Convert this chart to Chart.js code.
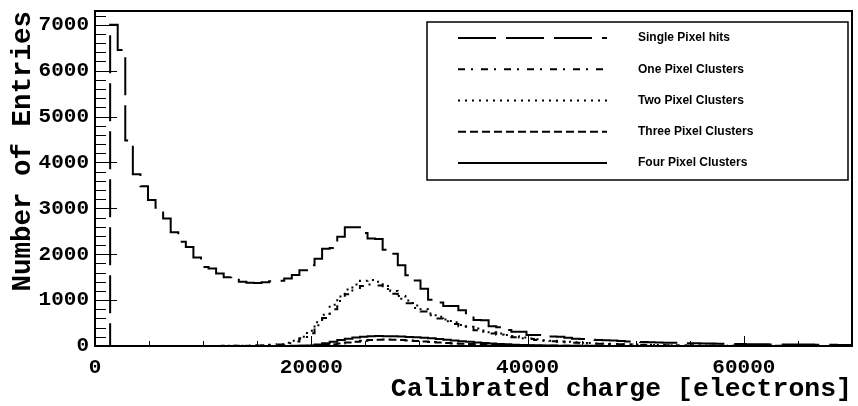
<!DOCTYPE html>
<html>
<head>
<meta charset="utf-8">
<script src="https://cdn.jsdelivr.net/npm/chart.js@4.4.1/dist/chart.umd.min.js"></script>
<style>
  html, body { margin: 0; padding: 0; background: #fff; }
  #wrap { width: 858px; height: 406px; }
</style>
</head>
<body>
<div id="wrap"><canvas id="chart" width="858" height="406"></canvas></div>
<script>
// histogram binning: 100 bins of 700 electrons
const BIN_WIDTH = 700;
const X_MIN = 0;
const X_MAX = 70000;
const Y_MAX = 7300;
const X_MAJOR = 20000, X_MINOR = 5000;
const Y_MAJOR = 1000, Y_MINOR = 200;

const xTickLabels = [0, 20000, 40000, 60000];
const yTickLabels = [0, 1000, 2000, 3000, 4000, 5000, 6000, 7000];

const seriesLabels = [
  "Single Pixel hits",
  "One Pixel Clusters",
  "Two Pixel Clusters",
  "Three Pixel Clusters",
  "Four Pixel Clusters",
];

const singlePixelHits = [
  0, 0, 7000, 6450, 4480, 3740, 3480, 3180, 3010, 2780,
  2480, 2270, 2160, 1930, 1720, 1690, 1580, 1500, 1510, 1400,
  1380, 1375, 1390, 1410, 1420, 1470, 1545, 1650, 1760, 1900,
  2120, 2135, 2380, 2590, 2590, 2460, 2340, 2330, 2100, 2010,
  1760, 1540, 1430, 1250, 1010, 950, 870, 870, 780, 650,
  565, 560, 430, 410, 350, 310, 310, 240, 240, 210,
  205, 200, 180, 160, 150, 140, 130, 125, 120, 110,
  100, 90, 85, 80, 75, 70, 70, 65, 60, 60,
  55, 55, 50, 50, 45, 45, 40, 40, 40, 35,
  35, 35, 30, 30, 30, 25, 25, 25, 20, 20,
];

const onePixelClusters = [
  0, 0, 0, 0, 0, 0, 0, 0, 0, 0,
  0, 0, 0, 0, 0, 1, 2, 3, 5, 6,
  8, 12, 16, 24, 35, 60, 100, 170, 280, 450,
  610, 800, 980, 1130, 1240, 1310, 1340, 1320, 1240, 1140,
  1030, 930, 830, 750, 670, 600, 540, 480, 430, 385,
  345, 310, 275, 245, 215, 190, 168, 150, 132, 116,
  102, 90, 80, 71, 63, 56, 50, 45, 40, 36,
  32, 29, 26, 23, 21, 19, 17, 15, 13, 12,
  11, 10, 9, 8, 7, 6, 6, 5, 5, 4,
  4, 3, 3, 3, 2, 2, 2, 1, 1, 1,
];

const twoPixelClusters = [
  0, 0, 0, 0, 0, 0, 0, 0, 0, 0,
  0, 0, 0, 0, 0, 2, 3, 4, 6, 7,
  9, 13, 18, 27, 40, 70, 115, 200, 330, 520,
  680, 900, 1080, 1230, 1340, 1420, 1440, 1400, 1310, 1200,
  1090, 990, 880, 800, 710, 640, 580, 520, 460, 420,
  380, 340, 300, 270, 240, 210, 185, 165, 145, 128,
  112, 100, 90, 80, 71, 63, 56, 50, 45, 40,
  36, 32, 28, 25, 22, 20, 18, 16, 14, 12,
  11, 10, 9, 8, 7, 6, 6, 5, 5, 4,
  4, 3, 3, 3, 2, 2, 2, 1, 1, 1,
];

const threePixelClusters = [
  0, 0, 0, 0, 0, 0, 0, 0, 0, 0,
  0, 0, 0, 0, 0, 0, 0, 0, 0, 0,
  0, 0, 0, 0, 1, 1, 2, 3, 5, 12,
  22, 38, 55, 75, 95, 112, 130, 138, 140, 138,
  130, 120, 108, 97, 86, 76, 66, 57, 49, 42,
  36, 30, 25, 21, 17, 14, 11, 9, 7, 6,
  5, 4, 3, 3, 2, 2, 1, 1, 1, 1,
  0, 0, 0, 0, 0, 0, 0, 0, 0, 0,
  0, 0, 0, 0, 0, 0, 0, 0, 0, 0,
  0, 0, 0, 0, 0, 0, 0, 0, 0, 0,
];

const fourPixelClusters = [
  0, 0, 0, 0, 0, 0, 0, 0, 0, 0,
  0, 0, 0, 0, 0, 0, 0, 0, 0, 0,
  0, 0, 0, 0, 1, 2, 3, 5, 10, 30,
  60, 95, 130, 160, 185, 200, 212, 218, 215, 210,
  205, 198, 190, 180, 168, 152, 136, 120, 104, 90,
  76, 64, 53, 44, 36, 29, 23, 18, 14, 11,
  9, 7, 6, 5, 4, 3, 3, 2, 2, 1,
  1, 1, 1, 1, 1, 0, 0, 0, 0, 0,
  0, 0, 0, 0, 0, 0, 0, 0, 0, 0,
  0, 0, 0, 0, 0, 0, 0, 0, 0, 0,
];

const seriesValues = [singlePixelHits, onePixelClusters, twoPixelClusters, threePixelClusters, fourPixelClusters];
const seriesDash = [[38, 10], [7, 6, 2, 8], [2, 5], [8, 4], []];

const MONO = "'Liberation Mono', 'Courier New', monospace";

// one point per bin low edge plus the closing edge, drawn as steps
function histPoints(values) {
  const pts = values.map((v, i) => ({ x: X_MIN + i * BIN_WIDTH, y: v }));
  pts.push({ x: X_MIN + values.length * BIN_WIDTH, y: values[values.length - 1] });
  return pts;
}

// keep the frame where ROOT puts it, labels may overhang
function noScalePadding(s) {
  s.paddingTop = 0;
  s.paddingBottom = 0;
  s.paddingLeft = 0;
  s.paddingRight = 0;
}

// ROOT style: ticks inside the frame, left and bottom only
const rootAxes = {
  id: "rootAxes",
  afterDatasetsDraw(chart) {
    const { ctx, chartArea: a, scales: { x, y } } = chart;
    ctx.save();
    ctx.strokeStyle = "#000";
    ctx.lineWidth = 1;
    ctx.beginPath();
    for (let v = 0; v <= Y_MAX; v += Y_MINOR) {
      const py = Math.round(y.getPixelForValue(v)) + 0.5;
      const len = v % Y_MAJOR === 0 ? 22 : 11;
      ctx.moveTo(a.left, py);
      ctx.lineTo(a.left + len, py);
    }
    for (let v = X_MIN; v <= X_MAX; v += X_MINOR) {
      const px = Math.round(x.getPixelForValue(v)) + 0.5;
      const len = v % X_MAJOR === 0 ? 10 : 5;
      ctx.moveTo(px, a.bottom);
      ctx.lineTo(px, a.bottom - len);
    }
    ctx.stroke();
    ctx.lineWidth = 2;
    ctx.strokeRect(a.left, a.top, a.right - a.left, a.bottom - a.top);
    ctx.restore();
  },
};

const rootLegend = {
  id: "rootLegend",
  afterDraw(chart) {
    const { ctx } = chart;
    const box = { left: 427, top: 22, right: 848, bottom: 180 };
    ctx.save();
    ctx.fillStyle = "#fff";
    ctx.fillRect(box.left, box.top, box.right - box.left, box.bottom - box.top);
    ctx.strokeStyle = "#000";
    ctx.lineWidth = 1.5;
    ctx.strokeRect(box.left, box.top, box.right - box.left, box.bottom - box.top);
    ctx.font = "bold 12px 'Liberation Sans', Arial, sans-serif";
    ctx.textBaseline = "middle";
    ctx.fillStyle = "#000";
    chart.data.datasets.forEach((ds, i) => {
      const cy = box.top + 16 + i * 31.25;
      ctx.setLineDash(ds.borderDash || []);
      ctx.lineWidth = ds.borderWidth;
      ctx.beginPath();
      ctx.moveTo(458, cy);
      ctx.lineTo(607, cy);
      ctx.stroke();
      ctx.setLineDash([]);
      ctx.fillText(ds.label, 638, cy);
    });
    ctx.restore();
  },
};

const datasets = seriesLabels.map((label, i) => ({
  label,
  data: histPoints(seriesValues[i]),
  borderColor: "#000",
  borderWidth: 2,
  borderDash: seriesDash[i],
  pointRadius: 0,
  stepped: true,
  fill: false,
}));

new Chart(document.getElementById("chart").getContext("2d"), {
  type: "line",
  data: { datasets },
  plugins: [rootAxes, rootLegend],
  options: {
    responsive: false,
    devicePixelRatio: 1,
    animation: false,
    events: [],
    layout: { padding: { top: 11, right: 6, left: 0, bottom: 0 } },
    plugins: { legend: { display: false }, tooltip: { enabled: false } },
    scales: {
      x: {
        type: "linear",
        min: X_MIN,
        max: X_MAX,
        afterFit: (s) => { s.height = 60; noScalePadding(s); },
        afterBuildTicks: (s) => { s.ticks = xTickLabels.map((v) => ({ value: v })); },
        grid: { display: false, drawTicks: false, tickLength: 0 },
        border: { display: false },
        ticks: {
          maxRotation: 0,
          autoSkip: false,
          padding: 9,
          color: "#000",
          font: { family: MONO, size: 21, weight: "bold" },
          callback: (v) => String(v),
        },
        title: {
          display: true,
          text: "Calibrated charge [electrons]",
          align: "end",
          color: "#000",
          padding: { top: 0, bottom: 1 },
          font: { family: MONO, size: 26.5, weight: "bold" },
        },
      },
      y: {
        min: 0,
        max: Y_MAX,
        afterFit: (s) => { s.width = 95; noScalePadding(s); },
        afterBuildTicks: (s) => { s.ticks = yTickLabels.map((v) => ({ value: v })); },
        grid: { display: false, drawTicks: false, tickLength: 0 },
        border: { display: false },
        ticks: {
          autoSkip: false,
          padding: 6,
          color: "#000",
          font: { family: MONO, size: 21, weight: "bold" },
          callback: (v) => String(v),
        },
        title: {
          display: true,
          text: "Number of Entries",
          align: "end",
          color: "#000",
          padding: { top: 7, bottom: 0 },
          font: { family: MONO, size: 27.5, weight: "bold" },
        },
      },
    },
  },
});
</script>
</body>
</html>
